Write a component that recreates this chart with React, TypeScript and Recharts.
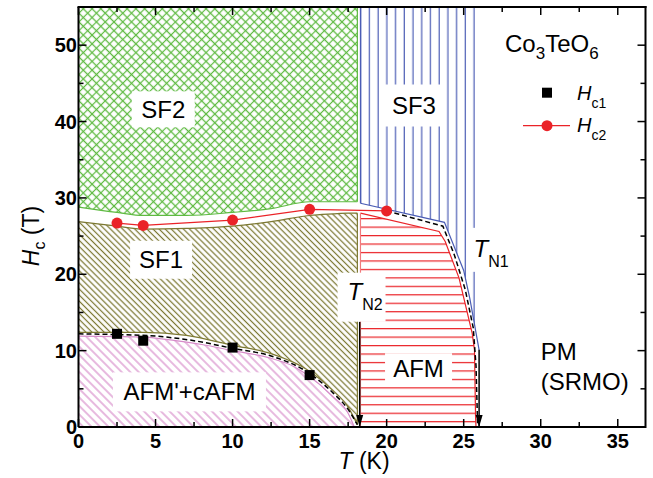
import React from 'react';
import { ComposedChart, XAxis, YAxis, Area, Line, Scatter, Legend } from 'recharts';

const FONT = "'Liberation Sans', Arial, Helvetica, sans-serif";

// Critical fields (measured points)
const hc1T = [2.5, 4.2, 10, 15];
const hc1H = [12.2, 11.3, 10.4, 6.8];
const hc2T = [2.5, 4.2, 10, 15, 20];
const hc2H = [26.7, 26.4, 27.1, 28.5, 28.3];

// Phase-region boundaries
const H_TOP = 55;
const T_MAX = 36.8;
const sf2T = [0, 2.5, 4.2, 7, 10, 12.5, 15, 18.1];
const sf2Lo = [28.8, 28.1, 27.7, 27.7, 28.1, 28.6, 29.5, 29.5];
const sf1T = [0, 2.5, 4.2, 7, 10, 12.5, 15, 16.5, 17.5, 18.1];
const sf1Hi = [26.9, 26.3, 25.9, 26.0, 26.3, 26.9, 27.7, 27.9, 28.0, 28.0];
const sf1Lo = [12.4, 12.4, 12.4, 12.0, 10.7, 9.6, 7.3, 4.8, 2.6, 0.3];
const cafmT = [0, 4, 6.3, 8, 10, 12.5, 14, 15, 16.5, 17.5, 17.9];
const cafmHi = [11.9, 11.8, 11.3, 10.8, 10.0, 9.0, 7.9, 6.6, 4.0, 1.8, 0];
const afmT = [18.3, 23.4, 23.8, 24.7, 25.55, 25.7, 25.77, 25.8];
const afmHi = [28.0, 25.6, 24.3, 19.5, 12.3, 10.1, 1.35, 0];
const sf3T = [18.3, 23.75, 25.0, 25.4, 26.0];
const sf3Lo = [29.3, 26.8, 20.5, 16.8, 10.1];

// Dashed guide lines
const dashLowT = [0, 2.5, 5, 7.5, 10, 12.5, 15, 16.5, 17.5, 18.1];
const dashLowH = [12.2, 12.1, 11.9, 11.3, 10.3, 9.3, 7.0, 4.5, 2.3, 0.3];
const dashN1T = [20, 23.65, 24.4, 25.1, 25.62, 25.8, 25.9];
const dashN1H = [28.3, 26.3, 22.5, 18.0, 13.0, 8.0, 0.5];

// Region edges (vertical)
const leftEdgeT = 18.1;
const rightEdgeT = 18.3;

// Transition arrows
const arrowT = [18.25, 26.0];
const arrowTop = [13.8, 10.1];

// Ticks
const xTicks = [0, 2.5, 5, 7.5, 10, 12.5, 15, 17.5, 20, 22.5, 25, 27.5, 30, 32.5, 35];
const yTicks = [0, 5, 10, 15, 20, 25, 30, 35, 40, 45, 50];

// Labels
const regionNames = ['SF2', 'SF3', 'SF1', "AFM'+cAFM", 'AFM'];
const regionLabelT = [5.5, 21.77, 5.36, 7.2, 22.07];
const regionLabelH = [41.6, 42.1, 21.9, 4.6, 7.7];
const tnNames = ['N2', 'N1'];
const tnLabelT = [18.37, 26.68];
const tnLabelH = [17.0, 23.2];
const pmLines = ['PM', '(SRMO)'];
const pmT = 30.0;
const pmH = 8.8;

// Chart geometry
const W = 653;
const H = 478;
const MARGIN = { top: 7, right: 7.5, bottom: 21, left: 18.5 };
const Y_AXIS_W = 60;
const X_AXIS_H = 30;
const PLOT = {
  left: MARGIN.left + Y_AXIS_W,
  right: W - MARGIN.right,
  top: MARGIN.top,
  bottom: H - MARGIN.bottom - X_AXIS_H,
};
const sx = (t: number) => PLOT.left + (t / T_MAX) * (PLOT.right - PLOT.left);
const sy = (h: number) => PLOT.bottom - (h / H_TOP) * (PLOT.bottom - PLOT.top);

const rows = (xs: number[], ys: number[]) => xs.map((x, i) => ({ x, y: ys[i] }));
const ranges = (xs: number[], lo: number[], hi: number[]) =>
  xs.map((x, i) => ({ x, lo: lo[i], hi: hi[i] }));

const hc1Data = rows(hc1T, hc1H);
const hc2Data = rows(hc2T, hc2H);
const sf2Data = ranges(sf2T, sf2Lo, sf2T.map(() => H_TOP));
const sf1Data = ranges(sf1T, sf1Lo, sf1Hi);
const cafmData = ranges(cafmT, cafmT.map(() => 0), cafmHi);
const afmData = ranges(afmT, afmT.map(() => 0), afmHi);
const sf3Data = ranges(sf3T, sf3Lo, sf3T.map(() => H_TOP));
const dashLowData = rows(dashLowT, dashLowH);
const dashN1Data = rows(dashN1T, dashN1H);
const greenEdge = rows([leftEdgeT, leftEdgeT], [sf2Lo[sf2Lo.length - 1], H_TOP]);
const oliveEdge = rows([leftEdgeT, leftEdgeT], [sf1Lo[sf1Lo.length - 1], sf1Hi[sf1Hi.length - 1]]);
const blueEdge = rows([rightEdgeT, rightEdgeT], [sf3Lo[0], H_TOP]);
const redEdge = rows([rightEdgeT, rightEdgeT], [0, afmHi[0]]);
const arrowN2 = rows([arrowT[0], arrowT[0]], [arrowTop[0], 0]);
const arrowN1 = rows([arrowT[1], arrowT[1]], [arrowTop[1], 0]);
const arrowHeads = rows(arrowT, [0, 0]);
const regionLabelData = regionNames.map((name, i) => ({ x: regionLabelT[i], y: regionLabelH[i], name }));
const tnLabelData = tnNames.map((name, i) => ({ x: tnLabelT[i], y: tnLabelH[i], name }));
const pmData = [{ x: pmT, y: pmH, name: 'PM' }];

const rangeKey = (d: any) => [d.lo, d.hi];

const C = {
  green: '#5fba42',
  olive: '#7c7832',
  pink: '#d68bc9',
  red: '#ea2328',
  redEdge: '#f07a7c',
  blue: '#4a5cb4',
};

const boxSize: Record<string, [number, number]> = {
  SF2: [63, 36],
  SF3: [63, 42],
  SF1: [62, 38],
  "AFM'+cAFM": [153, 39],
  AFM: [67, 30],
};

const isMajor = (v: number, step: number) => Math.abs(v / step - Math.round(v / step)) < 1e-6;

const BottomTick = (p: any) => {
  const { x, y, payload } = p;
  const v = payload.value;
  const major = isMajor(v, 5);
  return (
    <g>
      <line x1={x} x2={x} y1={y} y2={y - (major ? 8 : 5)} stroke="#000" strokeWidth={1.5} />
      {major && (
        <text x={x} y={y + 21} textAnchor="middle" fontFamily={FONT} fontSize={20} fontWeight="bold" fill="#000">
          {v}
        </text>
      )}
    </g>
  );
};

const LeftTick = (p: any) => {
  const { x, y, payload } = p;
  const v = payload.value;
  const major = isMajor(v, 10);
  return (
    <g>
      <line x1={x} x2={x + (major ? 8 : 5)} y1={y} y2={y} stroke="#000" strokeWidth={1.5} />
      {major && (
        <text x={x - 1.5} y={y + 7} textAnchor="end" fontFamily={FONT} fontSize={20} fontWeight="bold" fill="#000">
          {v}
        </text>
      )}
    </g>
  );
};

const YLabel = (p: any) => {
  const vb = p.viewBox || { x: 0, y: 0, width: 0, height: 0 };
  const bx = vb.x + 20;
  const cy = vb.y + vb.height / 2 + 19;
  return (
    <text
      x={bx}
      y={cy}
      transform={`rotate(-90, ${bx}, ${cy})`}
      textAnchor="middle"
      fontFamily={FONT}
      fontSize={23}
      fill="#000"
    >
      <tspan fontStyle="italic">H</tspan>
      <tspan fontSize={16} dy={6}>c</tspan>
      <tspan dy={-6}> (T)</tspan>
    </text>
  );
};

const XLabel = (p: any) => {
  const vb = p.viewBox || { x: 0, y: 0, width: 0, height: 0 };
  return (
    <text x={vb.x + vb.width / 2 + 2} y={vb.y + 41.5} textAnchor="middle" fontFamily={FONT} fontSize={23} fill="#000">
      <tspan fontStyle="italic">T</tspan>
      <tspan> (K)</tspan>
    </text>
  );
};

const RegionLabel = (p: any) => {
  const { cx, cy, payload } = p;
  const [w, h] = boxSize[payload.name] || [60, 36];
  return (
    <g>
      <rect x={cx - w / 2} y={cy - h / 2} width={w} height={h} fill="#fff" />
      <text x={cx} y={cy + 8.6} textAnchor="middle" fontFamily={FONT} fontSize={24} fill="#000">
        {payload.name}
      </text>
    </g>
  );
};

const TnLabel = (p: any) => {
  const { cx, cy, payload } = p;
  const isN2 = payload.name === 'N2';
  const w = isN2 ? 48 : 40;
  const h = isN2 ? 49 : 44;
  const tx = isN2 ? cx - 14 : cx - 16;
  const ty = isN2 ? cy + 2.5 : cy + 7;
  return (
    <g>
      <rect x={cx - w / 2} y={cy - h / 2} width={w} height={h} fill="#fff" />
      <text x={tx} y={ty} fontFamily={FONT} fontSize={24} fill="#000">
        <tspan fontStyle="italic">T</tspan>
        <tspan fontSize={16} dy={10.5}>{payload.name}</tspan>
      </text>
    </g>
  );
};

const PmLabel = (p: any) => {
  const { cx, cy } = p;
  return (
    <text x={cx} y={cy} fontFamily={FONT} fontSize={24} fill="#000">
      <tspan x={cx}>{pmLines[0]}</tspan>
      <tspan x={cx} dy={30}>{pmLines[1]}</tspan>
    </text>
  );
};

const Square = (p: any) => <rect x={p.cx - 5} y={p.cy - 5} width={10} height={10} fill="#000" />;
const ArrowHead = (p: any) => (
  <polygon points={`${p.cx - 3.5},${p.cy - 12} ${p.cx + 3.5},${p.cy - 12} ${p.cx},${p.cy}`} fill="#000" />
);

const LegendBox = () => (
  <svg width={150} height={130} style={{ display: 'block', overflow: 'visible' }}>
    <text x={10} y={31.7} fontFamily={FONT} fontSize={24} fill="#000">
      <tspan>Co</tspan>
      <tspan fontSize={17} dy={7}>3</tspan>
      <tspan dy={-7}>TeO</tspan>
      <tspan fontSize={17} dy={7}>6</tspan>
    </text>
    <rect x={47} y={67.7} width={10} height={10} fill="#000" />
    <text x={82} y={80} fontFamily={FONT} fontSize={20} fill="#000">
      <tspan fontStyle="italic">H</tspan>
      <tspan fontSize={14} dy={8}>c1</tspan>
    </text>
    <line x1={28} x2={75} y1={105.7} y2={105.7} stroke={C.red} strokeWidth={1.3} />
    <circle cx={52} cy={105.7} r={5.5} fill={C.red} />
    <text x={82} y={112} fontFamily={FONT} fontSize={20} fill="#000">
      <tspan fontStyle="italic">H</tspan>
      <tspan fontSize={14} dy={8}>c2</tspan>
    </text>
  </svg>
);

// Mirrored top/right frame with inward ticks (same linear mapping as the chart axes)
const MirrorFrame = () => (
  <svg
    width={W}
    height={H}
    style={{ position: 'absolute', left: 0, top: 0, pointerEvents: 'none', zIndex: 2 }}
  >
    <line x1={PLOT.left - 1} x2={PLOT.right + 1} y1={PLOT.top} y2={PLOT.top} stroke="#000" strokeWidth={2} />
    <line x1={PLOT.right} x2={PLOT.right} y1={PLOT.top - 1} y2={PLOT.bottom + 1} stroke="#000" strokeWidth={2} />
    {xTicks.map((t) => (
      <line
        key={`t${t}`}
        x1={sx(t)}
        x2={sx(t)}
        y1={PLOT.top}
        y2={PLOT.top + (isMajor(t, 5) ? 8 : 5)}
        stroke="#000"
        strokeWidth={1.5}
      />
    ))}
    {yTicks.map((h) => (
      <line
        key={`r${h}`}
        x1={PLOT.right}
        x2={PLOT.right - (isMajor(h, 10) ? 8 : 5)}
        y1={sy(h)}
        y2={sy(h)}
        stroke="#000"
        strokeWidth={1.5}
      />
    ))}
  </svg>
);

export default function App() {
  return (
    <div style={{ position: 'absolute', left: 0, top: 0, width: W, height: H, background: '#fff' }}>
      <ComposedChart width={W} height={H} margin={MARGIN}>
        <defs>
          <pattern id="pGreen" patternUnits="userSpaceOnUse" width={6.2} height={6.2} patternTransform="rotate(45)">
            <path d="M0 3.1 H6.2 M3.1 0 V6.2" stroke={C.green} strokeWidth={1.2} fill="none" />
          </pattern>
          <pattern id="pOlive" patternUnits="userSpaceOnUse" width={4.3} height={4.3} patternTransform="rotate(45)">
            <path d="M0 2.15 H4.3" stroke={C.olive} strokeWidth={1.25} fill="none" />
          </pattern>
          <pattern id="pPink" patternUnits="userSpaceOnUse" width={6} height={6} patternTransform="rotate(45)">
            <path d="M0 3 H6" stroke={C.pink} strokeWidth={1.2} fill="none" />
          </pattern>
          <pattern id="pRed" patternUnits="userSpaceOnUse" width={10} height={8.46}>
            <path d="M0 7.2 H10" stroke={C.red} strokeWidth={1.2} fill="none" />
          </pattern>
          <pattern id="pBlue" patternUnits="userSpaceOnUse" width={8.72} height={10}>
            <path d="M3.18 0 V10" stroke={C.blue} strokeWidth={1.2} fill="none" />
          </pattern>
        </defs>

        <XAxis
          type="number"
          dataKey="x"
          domain={[0, T_MAX]}
          ticks={xTicks}
          interval={0}
          height={X_AXIS_H}
          tickSize={0}
          tickMargin={0}
          tickLine={false}
          tick={<BottomTick />}
          axisLine={{ stroke: '#000', strokeWidth: 2 }}
          label={{ content: <XLabel /> }}
        />
        <YAxis
          type="number"
          domain={[0, H_TOP]}
          ticks={yTicks}
          interval={0}
          width={Y_AXIS_W}
          tickSize={0}
          tickMargin={0}
          tickLine={false}
          tick={<LeftTick />}
          axisLine={{ stroke: '#000', strokeWidth: 2 }}
          label={{ content: <YLabel /> }}
        />

        <Area data={sf2Data} dataKey={rangeKey} type="monotone" fill="url(#pGreen)" fillOpacity={1} stroke={C.green} strokeWidth={1.2} isAnimationActive={false} dot={false} activeDot={false} />
        <Area data={sf1Data} dataKey={rangeKey} type="monotone" fill="url(#pOlive)" fillOpacity={1} stroke={C.olive} strokeWidth={1.2} isAnimationActive={false} dot={false} activeDot={false} />
        <Area data={cafmData} dataKey={rangeKey} type="monotone" fill="url(#pPink)" fillOpacity={1} stroke={C.pink} strokeWidth={1.2} isAnimationActive={false} dot={false} activeDot={false} />
        <Area data={afmData} dataKey={rangeKey} type="linear" fill="url(#pRed)" fillOpacity={1} stroke={C.red} strokeWidth={1.2} isAnimationActive={false} dot={false} activeDot={false} />
        <Area data={sf3Data} dataKey={rangeKey} type="linear" fill="url(#pBlue)" fillOpacity={1} stroke={C.blue} strokeWidth={1.2} isAnimationActive={false} dot={false} activeDot={false} />

        <Line data={greenEdge} dataKey="y" stroke={C.green} strokeWidth={1.2} dot={false} activeDot={false} isAnimationActive={false} />
        <Line data={oliveEdge} dataKey="y" stroke={C.olive} strokeWidth={1.2} dot={false} activeDot={false} isAnimationActive={false} />
        <Line data={blueEdge} dataKey="y" stroke={C.blue} strokeWidth={1.2} dot={false} activeDot={false} isAnimationActive={false} />
        <Line data={redEdge} dataKey="y" stroke={C.redEdge} strokeWidth={1.2} dot={false} activeDot={false} isAnimationActive={false} />

        <Scatter data={regionLabelData} dataKey="y" shape={<RegionLabel />} isAnimationActive={false} />
        <Scatter data={tnLabelData} dataKey="y" shape={<TnLabel />} isAnimationActive={false} />
        <Scatter data={pmData} dataKey="y" shape={<PmLabel />} isAnimationActive={false} />

        <Line data={dashLowData} dataKey="y" type="monotone" stroke="#000" strokeWidth={1.5} strokeDasharray="5 3" dot={false} activeDot={false} isAnimationActive={false} />
        <Line data={dashN1Data} dataKey="y" type="linear" stroke="#000" strokeWidth={1.5} strokeDasharray="5 3" dot={false} activeDot={false} isAnimationActive={false} />
        <Line data={arrowN2} dataKey="y" stroke="#000" strokeWidth={1.5} dot={false} activeDot={false} isAnimationActive={false} />
        <Line data={arrowN1} dataKey="y" stroke="#000" strokeWidth={1.5} dot={false} activeDot={false} isAnimationActive={false} />
        <Scatter data={arrowHeads} dataKey="y" shape={<ArrowHead />} isAnimationActive={false} />

        <Line
          data={hc2Data}
          dataKey="y"
          type="linear"
          stroke={C.red}
          strokeWidth={1.3}
          dot={{ r: 5.5, fill: C.red, stroke: C.red, strokeWidth: 0 }}
          activeDot={false}
          isAnimationActive={false}
        />
        <Scatter data={hc1Data} dataKey="y" shape={<Square />} isAnimationActive={false} />

        <Legend
          layout="vertical"
          align="center"
          verticalAlign="middle"
          content={<LegendBox />}
          wrapperStyle={{ position: 'absolute', left: 495, top: 20, width: 150, height: 130 }}
        />
      </ComposedChart>
      <MirrorFrame />
    </div>
  );
}
